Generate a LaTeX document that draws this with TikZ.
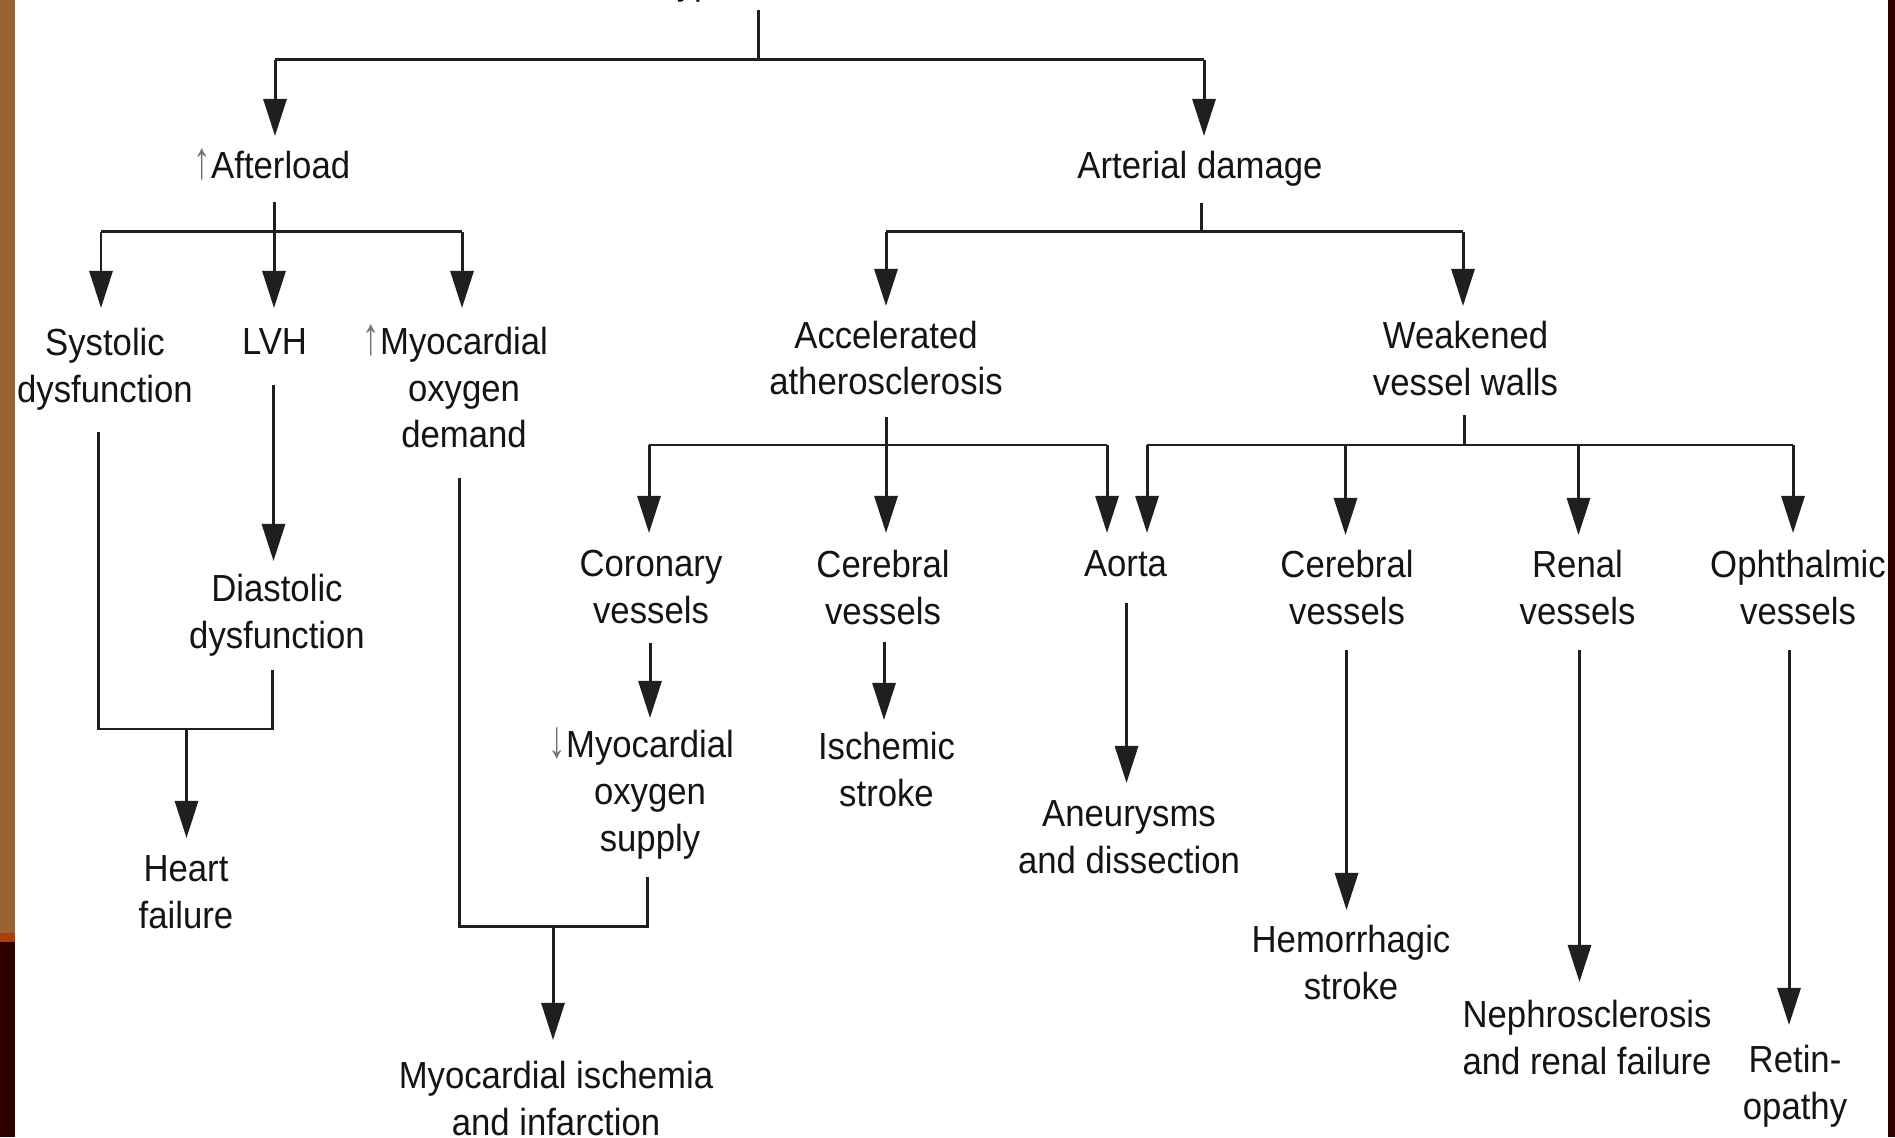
\documentclass[tikz,border=0pt]{standalone}
\usepackage{fontspec}
\setmainfont{Liberation Sans}[FakeStretch=0.92]
\usetikzlibrary{arrows.meta}
\definecolor{barbrown}{RGB}{154,99,49}
\definecolor{barorange}{RGB}{168,64,10}
\definecolor{bardark}{RGB}{46,0,0}
\newcommand\lblfont{\fontsize{10.73}{13.23}\selectfont}
\newcommand\upar{\textcolor{black!55}{\scalebox{1}[1.4]{↑}}}
\newcommand\dnar{\textcolor{black!55}{\scalebox{1}[1.4]{↓}}}
\begin{document}
\begin{tikzpicture}[x=0.01cm, y=-0.01cm,
  % base anchor of a multi-line label = baseline of its last line
  lbl/.style={align=center, inner sep=0pt, anchor=base, font=\lblfont, text=black!92},
  ln/.style={line width=0.85pt, draw=black!88},
  arr/.style={ln, -{Triangle[length=0.37cm, width=0.23cm]}}]
\useasboundingbox (0,0) rectangle (1895,1137);
\clip (0,0) rectangle (1895,1137);
\fill[white] (0,0) rectangle (1895,1137);

% ---- labels ----
\node[lbl] (hyper)   at (754,-5)   {Hypertension};
\node[lbl] (after)   at (272,179)  {\upar Afterload};
\node[lbl] (art)     at (1200,179) {Arterial damage};
\node[lbl] (sys)     at (105,402.5)  {Systolic\\dysfunction};
\node[lbl] (lvh)     at (274.5,355) {LVH};
\node[lbl] (demand)  at (464,448)  {\llap{\upar}Myocardial\\oxygen\\demand};
\node[lbl] (dia)     at (277,648) {Diastolic\\dysfunction};
\node[lbl] (heart)   at (186,928) {Heart\\failure};
\node[lbl] (accel)   at (886,395) {Accelerated\\atherosclerosis};
\node[lbl] (weak)    at (1465.5,395.5) {Weakened\\vessel walls};
\node[lbl] (coro)    at (651,623.5)  {Coronary\\vessels};
\node[lbl] (cerA)    at (883,624.5)  {Cerebral\\vessels};
\node[lbl] (aorta)   at (1125.5,577) {Aorta};
\node[lbl] (cerB)    at (1347,624.5) {Cerebral\\vessels};
\node[lbl] (renal)   at (1577.5,624.5) {Renal\\vessels};
\node[lbl] (ophth)   at (1798,624.5) {Ophthalmic\\vessels};
\node[lbl] (supply)  at (650,851)  {\llap{\dnar}Myocardial\\oxygen\\supply};
\node[lbl] (istroke) at (886.5,806.5) {Ischemic\\stroke};
\node[lbl] (aneur)   at (1129,873) {Aneurysms\\and dissection};
\node[lbl] (hstroke) at (1351,999.5) {Hemorrhagic\\stroke};
\node[lbl] (nephro)  at (1587,1074.5) {Nephrosclerosis\\and renal failure};
\node[lbl] (retin)   at (1795,1119.5) {Retin-\\opathy};
\node[lbl] (mi)      at (556,1135.5) {Myocardial ischemia\\and infarction};

% ---- connector end points ----
\coordinate (hypOut)   at (758,10);
\coordinate (hypJ)     at (758,60);
\coordinate (afterIn)  at (275,136);
\coordinate (artIn)    at (1204,136);
\coordinate (hypL)     at (275,60);
\coordinate (hypR)     at (1204,60);

\coordinate (afterOut) at (274,202);
\coordinate (afterL)   at (101,232);
\coordinate (afterR)   at (462,232);
\coordinate (sysIn)    at (101,308);
\coordinate (lvhIn)    at (274,308);
\coordinate (demIn)    at (462,308);

\coordinate (sysOut)   at (98.5,432);
\coordinate (sysC)     at (98.5,729);
\coordinate (lvhOut)   at (273.5,385);
\coordinate (diaIn)    at (273.5,561);
\coordinate (diaOut)   at (272.5,670);
\coordinate (diaC)     at (272.5,729);
\coordinate (hfJ)      at (186.5,729);
\coordinate (hfIn)     at (186.5,838);

\coordinate (demOut)   at (459,478);
\coordinate (demC)     at (459,926);
\coordinate (supOut)   at (647.5,877);
\coordinate (supC)     at (647.5,926);
\coordinate (miJ)      at (553,926);
\coordinate (miIn)     at (553,1040);

\coordinate (artOut)   at (1201,203);
\coordinate (artJ)     at (1201,232);
\coordinate (artL)     at (886,232);
\coordinate (artR)     at (1463,232);
\coordinate (accIn)    at (886,306);
\coordinate (weakIn)   at (1463,306);

\coordinate (accOut)   at (886,417);
\coordinate (accJ)     at (886,445);
\coordinate (accL)     at (649,445);
\coordinate (accR)     at (1107,445);
\coordinate (coroIn)   at (649,533);
\coordinate (cerAIn)   at (886,533);
\coordinate (aortaInL) at (1107,533);

\coordinate (weakOut)  at (1464,415);
\coordinate (weakJ)    at (1464,445);
\coordinate (weakL)    at (1147,445);
\coordinate (weakR)    at (1793,445);
\coordinate (aortaInR) at (1147,533);
\coordinate (cerBJ)    at (1345.5,445);
\coordinate (cerBIn)   at (1345.5,535);
\coordinate (renalJ)   at (1578.5,445);
\coordinate (renalIn)  at (1578.5,535);
\coordinate (ophthIn)  at (1793,533);

\coordinate (coroOut)  at (650,643);
\coordinate (supIn)    at (650,718);
\coordinate (cerAOut)  at (884,642);
\coordinate (isIn)     at (884,720);
\coordinate (aortaOut) at (1126.5,603);
\coordinate (aneurIn)  at (1126.5,783);
\coordinate (cerBOut)  at (1346.5,650);
\coordinate (hsIn)     at (1346.5,910);
\coordinate (renalOut) at (1579.5,650);
\coordinate (nephIn)   at (1579.5,982);
\coordinate (ophOut)   at (1789,650);
\coordinate (retIn)    at (1789,1025);

% ---- connectors ----
\draw[ln] (hypOut) -- (hypJ);
\draw[ln] (hypL) -- (hypR);
\draw[arr] (hypL) -- (afterIn);
\draw[arr] (hypR) -- (artIn);

\draw[arr] (afterOut) -- (lvhIn);
\draw[ln] (afterL) -- (afterR);
\draw[arr] (afterL) -- (sysIn);
\draw[arr] (afterR) -- (demIn);

\draw[ln] (sysOut) -- (sysC) -- (diaC) -- (diaOut);
\draw[arr] (lvhOut) -- (diaIn);
\draw[arr] (hfJ) -- (hfIn);

\draw[ln] (demOut) -- (demC) -- (supC) -- (supOut);
\draw[arr] (miJ) -- (miIn);

\draw[ln] (artOut) -- (artJ);
\draw[ln] (artL) -- (artR);
\draw[arr] (artL) -- (accIn);
\draw[arr] (artR) -- (weakIn);

\draw[arr] (accOut) -- (cerAIn);
\draw[ln] (accL) -- (accR);
\draw[arr] (accL) -- (coroIn);
\draw[arr] (accR) -- (aortaInL);

\draw[ln] (weakOut) -- (weakJ);
\draw[ln] (weakL) -- (weakR);
\draw[arr] (weakL) -- (aortaInR);
\draw[arr] (cerBJ) -- (cerBIn);
\draw[arr] (renalJ) -- (renalIn);
\draw[arr] (weakR) -- (ophthIn);

\draw[arr] (coroOut) -- (supIn);
\draw[arr] (cerAOut) -- (isIn);
\draw[arr] (aortaOut) -- (aneurIn);
\draw[arr] (cerBOut) -- (hsIn);
\draw[arr] (renalOut) -- (nephIn);
\draw[arr] (ophOut) -- (retIn);

% ---- side bars ----
\fill[barbrown]  (0,0) rectangle (15,933);
\fill[barorange] (0,933) rectangle (15,942);
\fill[bardark]   (0,942) rectangle (15,1137);
\fill[bardark]   (1888,0) rectangle (1895,1137);
\end{tikzpicture}
\end{document}
